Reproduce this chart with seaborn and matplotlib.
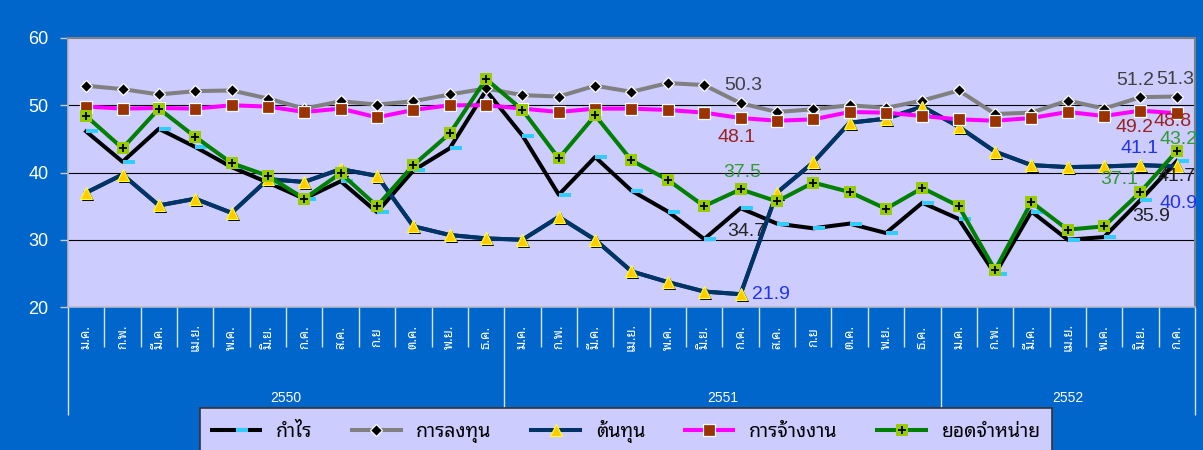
import numpy as np
import pandas as pd
import matplotlib
matplotlib.use('Agg')
import matplotlib.pyplot as plt
import matplotlib.transforms as mtransforms
from matplotlib.path import Path
from matplotlib.legend_handler import HandlerTuple
import seaborn as sns

# ข้อมูล (อ่านจากกราฟ)
months = ['ม.ค.', 'ก.พ.', 'มี.ค.', 'เม.ย.', 'พ.ค.', 'มิ.ย.', 'ก.ค.', 'ส.ค.', 'ก.ย', 'ต.ค.', 'พ.ย.', 'ธ.ค.']
years = ['2550', '2551', '2552']
months_per_year = [12, 12, 7]

profit = [46.1, 41.6, 46.5, 43.8, 40.8, 38.5, 36.1, 38.7, 34.1, 40.3, 43.6, 52.2,
          45.5, 36.7, 42.3, 37.3, 34.2, 30.1, 34.7, 32.4, 31.7, 32.4, 31.0, 35.5,
          33.1, 24.9, 34.2, 30.0, 30.4, 35.9, 41.7]
investment = [52.9, 52.4, 51.6, 52.1, 52.2, 51.0, 49.5, 50.6, 50.1, 50.6, 51.6, 52.5,
              51.5, 51.3, 52.9, 52.0, 53.3, 53.0, 50.3, 49.0, 49.4, 50.0, 49.6, 50.7,
              52.2, 48.7, 48.9, 50.7, 49.5, 51.2, 51.3]
cost = [37.0, 39.7, 35.1, 36.1, 34.0, 39.0, 38.6, 40.5, 39.5, 32.0, 30.7, 30.2,
        30.0, 33.4, 30.0, 25.3, 23.7, 22.3, 21.9, 37.0, 41.5, 47.4, 48.0, 49.8,
        46.8, 43.1, 41.1, 40.8, 40.9, 41.1, 40.9]
employment = [49.8, 49.5, 49.6, 49.5, 50.0, 49.8, 49.0, 49.5, 48.2, 49.3, 50.0, 50.0,
              49.5, 49.0, 49.5, 49.5, 49.3, 48.9, 48.1, 47.7, 47.9, 49.0, 48.9, 48.4,
              47.9, 47.7, 48.1, 49.0, 48.4, 49.2, 48.8]
sales = [48.4, 43.6, 49.5, 45.3, 41.4, 39.5, 36.1, 39.9, 35.0, 41.1, 45.8, 53.9,
         49.3, 42.1, 48.5, 41.8, 38.9, 35.0, 37.5, 35.7, 38.5, 37.1, 34.6, 37.7,
         35.0, 25.5, 35.6, 31.5, 32.0, 37.1, 43.2]

series_names = ['กำไร', 'การลงทุน', 'ต้นทุน', 'การจ้างงาน', 'ยอดจำหน่าย']

# จุดที่มีป้ายตัวเลข
labeled_idx = [18, 29, 30]

plt.rcParams['font.family'] = ['Liberation Sans', 'Noto Sans Thai Looped', 'DejaVu Sans']
thai_font = ['Noto Sans Thai Looped', 'DejaVu Sans']

n = len(profit)
x = np.arange(n)
month_labels = [months[i] for k in months_per_year for i in range(k)]

fig = plt.figure(figsize=(12.03, 4.5), dpi=100, facecolor='#0066CC')
ax = fig.add_axes([68 / 1203, 143 / 450, 1127 / 1203, 269 / 450])
ax.set_facecolor('#CCCCFF')

# marker สี่เหลี่ยมแบนสำหรับกำไร (ยื่นไปทางขวา)
dash = Path([(0, -0.2), (1, -0.2), (1, 0.2), (0, 0.2), (0, -0.2)],
            [Path.MOVETO, Path.LINETO, Path.LINETO, Path.LINETO, Path.CLOSEPOLY])

lw = 2.9
sns.lineplot(x=x, y=profit, ax=ax, color='black', lw=lw, marker=dash, ms=17,
             mfc='#33CCFF', mec='#33CCFF', mew=0, label=series_names[0], zorder=3)
sns.lineplot(x=x, y=investment, ax=ax, color='#808080', lw=lw, marker='D', ms=6.2,
             mfc='black', mec='white', mew=0.9, label=series_names[1], zorder=4)
sns.lineplot(x=x, y=cost, ax=ax, color='#003366', lw=lw, label='_nolegend_', zorder=5)
shadow = mtransforms.offset_copy(ax.transData, fig=fig, x=2, y=-2, units='dots')
ax.plot(x, cost, ls='none', marker='^', ms=9, mfc='black', mec='black', mew=0,
        transform=shadow, zorder=5.1)
sns.lineplot(x=x, y=cost, ax=ax, color='#003366', lw=lw, marker='^', ms=9,
             mfc='#FFCC00', mec='#FFFF33', mew=0.8, label=series_names[2], zorder=5.2)
sns.lineplot(x=x, y=employment, ax=ax, color='#FF00FF', lw=lw, marker='s', ms=8,
             mfc='#993300', mec='white', mew=0.9, label=series_names[3], zorder=6)
sns.lineplot(x=x, y=sales, ax=ax, color='#008000', lw=lw, marker='s', ms=8.6,
             mfc='#99CC00', mec='#99CC00', mew=0, label=series_names[4], zorder=7)
plus = ax.plot(x, sales, ls='none', marker='+', ms=6, mec='black', mew=1.3, zorder=7.1)[0]

# ป้ายตัวเลข
label_style = {
    'profit': (profit, '#222222', {18: (4, -17), 29: (8, -12), 30: (0, -11)}),
    'investment': (investment, '#404040', {18: (2, 13), 29: (-4, 12), 30: (-1, 12)}),
    'employment': (employment, '#992222', {18: (-3, -14), 29: (-4, -12), 30: (-3, -6)}),
    'sales': (sales, '#339933', {18: (1, 12), 29: (-15, 9), 30: (1, 8)}),
    'cost': (cost, '#2233EE', {18: (22, 0), 29: (-1, 12), 30: (1, -27)}),
}
for key, (vals, col, offs) in label_style.items():
    for i in labeled_idx:
        ax.annotate(f'{vals[i]:.1f}', (x[i], vals[i]), xytext=offs[i], textcoords='offset points',
                    ha='center', va='center', fontsize=14, color=col, zorder=10,
                    annotation_clip=False)

# แกน
ax.set_xlim(-0.5, n - 0.5)
ax.set_ylim(20, 60)
ax.set_yticks([20, 30, 40, 50, 60])
ax.set_xticks([])
ax.set_xlabel('')
ax.grid(False)
for yv in [30, 40, 50]:
    ax.axhline(yv, color='black', lw=0.8, zorder=1)
ax.tick_params(axis='y', colors='#C8C8D8', labelcolor='white', labelsize=13,
               length=6, width=1, pad=8)
for s in ['top', 'right']:
    ax.spines[s].set_color('#808080')
    ax.spines[s].set_linewidth(1.5)
for s in ['left', 'bottom']:
    ax.spines[s].set_color('#B8B8C8')
    ax.spines[s].set_linewidth(1.2)

# แกน x แบบสองชั้น (เดือน / ปี)
xt = ax.get_xaxis_transform()
for i, m in enumerate(month_labels):
    ax.text(x[i], -0.112, m, transform=xt, rotation=90, ha='center', va='center',
            fontsize=9.5, color='white', family=thai_font)
bounds = np.cumsum([0] + months_per_year) - 0.5
month_seps = [b for b in np.arange(n + 1) - 0.5 if b not in bounds]
ax.vlines(month_seps, -0.149, 0, transform=xt, colors='#D8E4F4', lw=1, clip_on=False)
ax.vlines(bounds, -0.401, 0, transform=xt, colors='#D8E4F4', lw=1, clip_on=False)
for k, yr in enumerate(years):
    ax.text((bounds[k] + bounds[k + 1]) / 2, -0.338, yr, transform=xt, ha='center',
            va='center', fontsize=10, color='white')

# legend
handles, labels = ax.get_legend_handles_labels()
hmap = dict(zip(labels, handles))
leg_handles = [hmap[s] for s in series_names]
leg_handles[4] = (hmap[series_names[4]], plus)
leg = ax.legend(leg_handles, series_names, ncol=5, loc='upper left',
                handler_map={tuple: HandlerTuple(ndivide=1)},
                bbox_to_anchor=(200 / 1203, 1 - 408 / 450), bbox_transform=fig.transFigure,
                prop={'family': thai_font, 'size': 14}, frameon=True, fancybox=False,
                facecolor='#CCCCFF', edgecolor='#333333', framealpha=1,
                handlelength=2.5, handletextpad=0.8, columnspacing=2.05, borderpad=0.6,
                borderaxespad=0)
leg.get_frame().set_linewidth(1.2)

fig.savefig('out.png', dpi=100, facecolor=fig.get_facecolor())
